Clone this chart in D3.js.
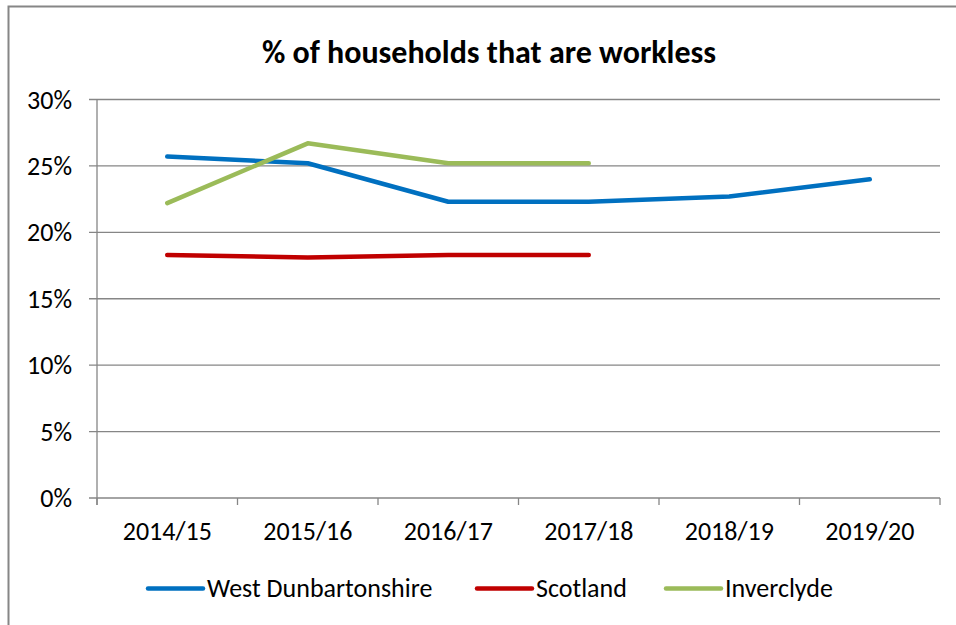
<!DOCTYPE html>
<html>
<head>
<meta charset="utf-8">
<script src="https://cdn.jsdelivr.net/npm/d3@7"></script>
<style>
  body { margin: 0; background: #fff; }
  text { font-family: Carlito, Calibri, Lato, sans-serif; fill: #000; }
</style>
</head>
<body>
<div id="chart"></div>
<script>
const categories = ['2014/15', '2015/16', '2016/17', '2017/18', '2018/19', '2019/20']
const westDunbartonshire = [25.7, 25.2, 22.3, 22.3, 22.7, 24.0]
const scotland = [18.3, 18.1, 18.3, 18.3, null, null]
const inverclyde = [22.2, 26.7, 25.2, 25.2, null, null]
const yTicks = [0, 5, 10, 15, 20, 25, 30]

const seriesNames = ['West Dunbartonshire', 'Scotland', 'Inverclyde']
const seriesColors = ['#0070C0', '#C00000', '#9BBB59']
const allSeries = [westDunbartonshire, scotland, inverclyde]

const margin = { top: 99.5, right: 16, bottom: 127, left: 97 }
const fullWidth = 956
const fullHeight = 625
const width = fullWidth - margin.left - margin.right
const height = fullHeight - margin.top - margin.bottom
const labelSize = '26px'

const root = d3
  .select('#chart')
  .append('svg')
  .attr('width', fullWidth)
  .attr('height', fullHeight)

// chart frame (runs off the right and bottom edge)
root
  .append('rect')
  .attr('x', 8.5)
  .attr('y', 6.5)
  .attr('width', 1000)
  .attr('height', 700)
  .attr('fill', 'none')
  .attr('stroke', '#868686')
  .attr('stroke-width', 2)

root
  .append('text')
  .attr('x', 489)
  .attr('y', 63)
  .attr('text-anchor', 'middle')
  .style('font-size', '32px')
  .style('font-weight', 'bold')
  .text('% of households that are workless')

const svg = root
  .append('g')
  .attr('transform', 'translate(' + margin.left + ',' + margin.top + ')')

const xPositionScale = d3.scaleBand().domain(categories).range([0, width])

const yPositionScale = d3
  .scaleLinear()
  .domain([0, 30])
  .range([height, 0])

// gridlines
svg
  .selectAll('.grid')
  .data(yTicks)
  .enter()
  .append('line')
  .attr('class', 'grid')
  .attr('x1', -8)
  .attr('x2', width)
  .attr('y1', d => yPositionScale(d))
  .attr('y2', d => yPositionScale(d))
  .attr('stroke', '#868686')
  .attr('stroke-width', 1.3)

// y axis line
svg
  .append('line')
  .attr('x1', 0)
  .attr('x2', 0)
  .attr('y1', 0)
  .attr('y2', height + 7)
  .attr('stroke', '#868686')
  .attr('stroke-width', 1.3)

svg
  .selectAll('.y-label')
  .data(yTicks)
  .enter()
  .append('text')
  .attr('class', 'y-label')
  .attr('x', -25)
  .attr('y', d => yPositionScale(d))
  .attr('dy', '0.35em')
  .attr('text-anchor', 'end')
  .style('font-size', labelSize)
  .text(d => d + '%')

// x axis labels, tick marks drawn at band boundaries below
const xAxis = d3
  .axisBottom(xPositionScale)
  .tickSize(0)
  .tickPadding(24)

const xg = svg
  .append('g')
  .attr('class', 'axis x-axis')
  .attr('transform', 'translate(0,' + height + ')')
  .call(xAxis)

xg.select('.domain').remove()
xg.selectAll('text')
  .style('font-size', labelSize)
  .attr('font-family', null)

const boundaries = categories.map(c => xPositionScale(c)).concat([width])
svg
  .selectAll('.x-tick')
  .data(boundaries)
  .enter()
  .append('line')
  .attr('class', 'x-tick')
  .attr('x1', d => d)
  .attr('x2', d => d)
  .attr('y1', height)
  .attr('y2', height + 7)
  .attr('stroke', '#868686')
  .attr('stroke-width', 1.3)

const line = d3
  .line()
  .defined(d => d !== null)
  .x((d, i) => xPositionScale(categories[i]) + xPositionScale.bandwidth() / 2)
  .y(d => yPositionScale(d))

svg
  .selectAll('.series')
  .data(allSeries)
  .enter()
  .append('path')
  .attr('class', 'series')
  .attr('d', d => line(d))
  .attr('fill', 'none')
  .attr('stroke', (d, i) => seriesColors[i])
  .attr('stroke-width', 4.5)
  .attr('stroke-linecap', 'round')
  .attr('stroke-linejoin', 'round')

// legend
const legendX = [148, 477, 666]
const legend = root
  .selectAll('.legend')
  .data(seriesNames)
  .enter()
  .append('g')
  .attr('class', 'legend')
  .attr('transform', (d, i) => 'translate(' + legendX[i] + ',588.5)')

legend
  .append('line')
  .attr('x1', 0)
  .attr('x2', 55)
  .attr('stroke', (d, i) => seriesColors[i])
  .attr('stroke-width', 4.5)
  .attr('stroke-linecap', 'round')

legend
  .append('text')
  .attr('x', 59)
  .attr('y', 8)
  .style('font-size', labelSize)
  .text(d => d)
</script>
</body>
</html>
